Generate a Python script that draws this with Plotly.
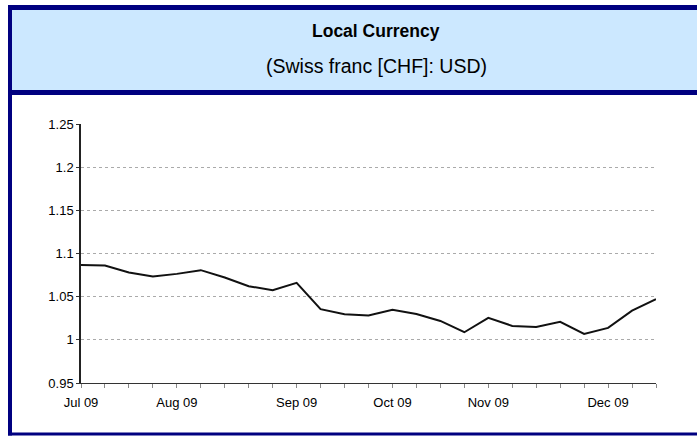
import plotly.graph_objects as go

# ---- data ----
week_dates = [
    "2009-07-06", "2009-07-13", "2009-07-20", "2009-07-27",
    "2009-08-03", "2009-08-10", "2009-08-17", "2009-08-24", "2009-08-31",
    "2009-09-07", "2009-09-14", "2009-09-21", "2009-09-28",
    "2009-10-05", "2009-10-12", "2009-10-19", "2009-10-26",
    "2009-11-02", "2009-11-09", "2009-11-16", "2009-11-23", "2009-11-30",
    "2009-12-07", "2009-12-14", "2009-12-21",
]
chf_usd = [
    1.0868, 1.0861, 1.0780, 1.0734,
    1.0764, 1.0807, 1.0722, 1.0621, 1.0575,
    1.0660, 1.0355, 1.0297, 1.0281,
    1.0347, 1.0300, 1.0219, 1.0088,
    1.0254, 1.0161, 1.0150, 1.0208, 1.0068,
    1.0138, 1.0339, 1.0471,
]
month_labels = {
    "2009-07-06": "Jul 09", "2009-08-03": "Aug 09", "2009-09-07": "Sep 09",
    "2009-10-05": "Oct 09", "2009-11-02": "Nov 09", "2009-12-07": "Dec 09",
}
y_ticks = [0.95, 1.0, 1.05, 1.1, 1.15, 1.2, 1.25]
y_tick_text = ["0.95", "1", "1.05", "1.1", "1.15", "1.2", "1.25"]
title_text = "Local Currency"
subtitle_text = "(Swiss franc [CHF]: USD)"

# ---- layout geometry (pixels) ----
W, H = 697, 436
L, R, T, B = 81, 41, 124, 53
PW, PH = W - L - R, H - T - B

def px(x):
    return (x - L) / PW

def py(y):
    return (H - B - y) / PH

NAVY = "#000080"
LIGHT = "#CCE8FF"
FONT = "Liberation Sans, Arial, sans-serif"

fig = go.Figure()
fig.add_trace(go.Scatter(
    x=week_dates, y=chf_usd, mode="lines",
    line=dict(color="#111111", width=2),
    hoverinfo="x+y", showlegend=False,
))

shapes = []
def rect(x0, y0, x1, y1, color):
    shapes.append(dict(type="rect", xref="paper", yref="paper",
                       x0=px(x0), x1=px(x1), y0=py(y1), y1=py(y0),
                       fillcolor=color, line=dict(width=0), layer="below"))

rect(12, 10, 700, 90, LIGHT)     # header fill
rect(8, 5, 700, 10, NAVY)        # top border
rect(8, 90, 700, 95, NAVY)       # header bottom border
rect(8, 5, 12, 435.5, NAVY)      # left border
rect(8, 432.5, 700, 435.5, NAVY) # bottom border

annotations = [
    dict(text="<b>%s</b>" % title_text, xref="paper", yref="paper",
         x=px(376), y=py(31.5), xanchor="center", yanchor="middle",
         showarrow=False, font=dict(family=FONT, size=17.5, color="#000000")),
    dict(text=subtitle_text, xref="paper", yref="paper",
         x=px(376), y=py(66), xanchor="center", yanchor="middle",
         showarrow=False, font=dict(family=FONT, size=19.5, color="#000000")),
]

fig.update_layout(
    width=W, height=H,
    margin=dict(l=L, r=R, t=T, b=B, pad=0),
    paper_bgcolor="white", plot_bgcolor="white",
    shapes=shapes, annotations=annotations,
    font=dict(family=FONT, size=13, color="#000000"),
    xaxis=dict(
        type="date", range=[week_dates[0], week_dates[-1]],
        tickmode="array", tickvals=week_dates,
        ticktext=[month_labels.get(d, "") for d in week_dates],
        ticks="outside", ticklen=4, tickcolor="#888888", tickwidth=1,
        ticklabelstandoff=3,
        showline=True, linecolor="#333333", linewidth=1,
        showgrid=False, zeroline=False,
        tickfont=dict(family=FONT, size=13, color="#000000"),
    ),
    yaxis=dict(
        range=[0.95, 1.25], tickmode="array", tickvals=y_ticks, ticktext=y_tick_text,
        ticks="outside", ticklen=3, tickcolor="#333333",
        showline=True, linecolor="#222222", linewidth=1.5,
        showgrid=True, gridcolor="#AAAAAA", griddash="dot", gridwidth=1,
        zeroline=False,
        tickfont=dict(family=FONT, size=13, color="#000000"),
    ),
)

fig.write_html(
    "out.html",
    config={"displayModeBar": False},
    post_script="document.body.style.margin='0';document.body.style.padding='0';",
)
